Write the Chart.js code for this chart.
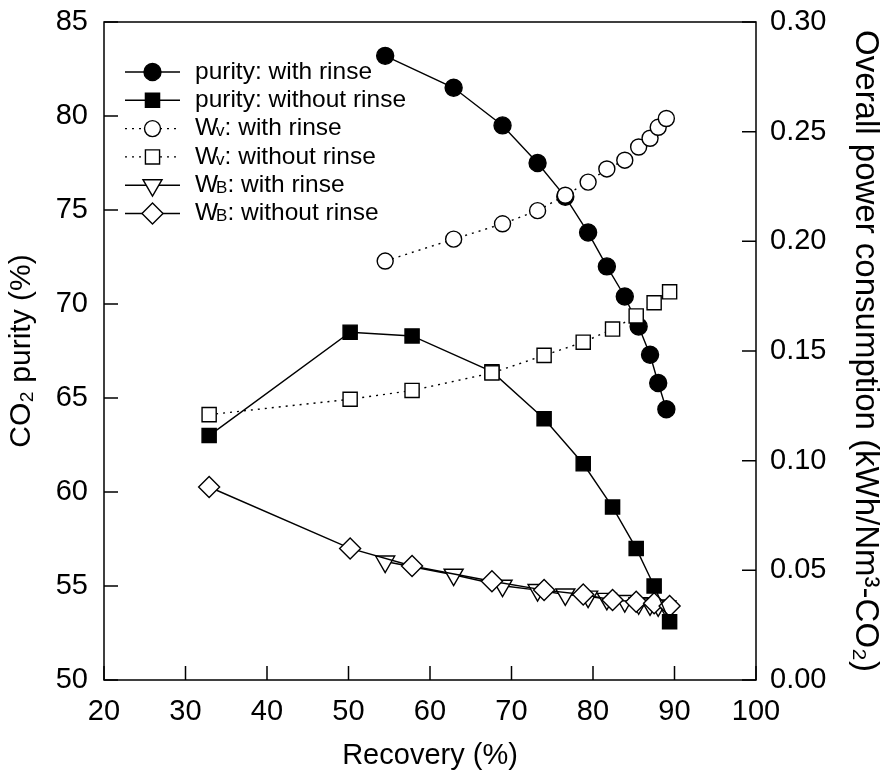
<!DOCTYPE html>
<html>
<head>
<meta charset="utf-8">
<script src="https://cdn.jsdelivr.net/npm/chart.js@4/dist/chart.umd.min.js"></script>
<style>
  body { margin: 0; background: #fff; }
  #grafico { display: block; }
</style>
</head>
<body>
<canvas id="grafico" width="884" height="775"></canvas>
<script>
// recovery (%) for each run
const recComRinse = [54.5, 62.9, 68.9, 73.2, 76.6, 79.4, 81.7, 83.9, 85.6, 87.0, 88.0, 89.0];
const recSemRinse = [32.9, 50.2, 57.8, 67.6, 74.0, 78.8, 82.4, 85.3, 87.5, 89.4];

// CO2 purity (%)
const purezaComRinse = [83.2, 81.5, 79.5, 77.5, 75.7, 73.8, 72.0, 70.4, 68.8, 67.3, 65.8, 64.4];
const purezaSemRinse = [63.0, 68.5, 68.3, 66.4, 63.9, 61.5, 59.2, 57.0, 55.0, 53.1];

// overall power consumption (kWh/Nm3-CO2)
const wvComRinse = [0.191, 0.201, 0.208, 0.214, 0.221, 0.227, 0.233, 0.237, 0.243, 0.247, 0.252, 0.256];
const wvSemRinse = [0.121, 0.128, 0.132, 0.140, 0.148, 0.154, 0.160, 0.166, 0.172, 0.177];
const wbComRinse = [0.054, 0.048, 0.043, 0.041, 0.039, 0.038, 0.037, 0.036, 0.035, 0.0345, 0.034, 0.0335];
const wbSemRinse = [0.088, 0.060, 0.052, 0.045, 0.041, 0.039, 0.0365, 0.0357, 0.035, 0.0337];

const xTicks = [20, 30, 40, 50, 60, 70, 80, 90, 100];
const yTicks = [50, 55, 60, 65, 70, 75, 80, 85];
const y1Ticks = [0, 0.05, 0.10, 0.15, 0.20, 0.25, 0.30];

const legendas = [
  "purity: with rinse",
  "purity: without rinse",
  "Wv: with rinse",
  "Wv: without rinse",
  "WB: with rinse",
  "WB: without rinse"
];

const fonte = "'Liberation Sans', Arial, sans-serif";

function pares(xs, ys) {
  return xs.map((x, i) => ({ x, y: ys[i] }));
}

function serie(label, xs, ys, eixo, estilo, cheio, tracejado, raio, ordem, rot) {
  return {
    label,
    data: pares(xs, ys),
    yAxisID: eixo,
    borderColor: "#000",
    backgroundColor: cheio ? "#000" : "#fff",
    borderWidth: 1.4,
    borderDash: tracejado ? [2, 5] : [],
    pointStyle: estilo,
    pointRadius: raio,
    pointHoverRadius: raio,
    pointBorderWidth: 1.4,
    pointBorderColor: "#000",
    pointBackgroundColor: cheio ? "#000" : "#fff",
    pointRotation: rot || 0,
    fill: false,
    tension: 0,
    order: ordem
  };
}

const datasets = [
  serie(legendas[0], recComRinse, purezaComRinse, "y", "circle", true, false, 8.5, 4),
  serie(legendas[1], recSemRinse, purezaSemRinse, "y", "rect", true, false, 10, 3),
  serie(legendas[2], recComRinse, wvComRinse, "y1", "circle", false, true, 8, 2),
  serie(legendas[3], recSemRinse, wvSemRinse, "y1", "rect", false, true, 10, 1),
  serie(legendas[4], recComRinse, wbComRinse, "y1", "triangle", false, false, 11, 6, 180),
  serie(legendas[5], recSemRinse, wbSemRinse, "y1", "rectRot", false, false, 10.5, 5)
];

// ticks pointing inward + closed frame + legend inside the plot
const molduraPlugin = {
  id: "moldura",
  afterDraw(chart) {
    const ctx = chart.ctx;
    const a = chart.chartArea;
    const tam = 14;
    ctx.save();
    ctx.strokeStyle = "#000";
    ctx.lineWidth = 1.5;
    ctx.strokeRect(a.left, a.top, a.right - a.left, a.bottom - a.top);
    ctx.beginPath();
    xTicks.forEach(v => {
      const px = chart.scales.x.getPixelForValue(v);
      ctx.moveTo(px, a.bottom);
      ctx.lineTo(px, a.bottom - tam);
    });
    yTicks.forEach(v => {
      const py = chart.scales.y.getPixelForValue(v);
      ctx.moveTo(a.left, py);
      ctx.lineTo(a.left + tam, py);
    });
    y1Ticks.forEach(v => {
      const py = chart.scales.y1.getPixelForValue(v);
      ctx.moveTo(a.right, py);
      ctx.lineTo(a.right - tam, py);
    });
    ctx.stroke();

    // legend
    const x0 = a.left + 21;
    const x1 = a.left + 76;
    const xm = (x0 + x1) / 2;
    const xt = a.left + 91;
    let yl = a.top + 50;
    const passo = 28.3;
    chart.data.datasets.forEach((ds, i) => {
      ctx.beginPath();
      ctx.lineWidth = 1.4;
      ctx.setLineDash(ds.borderDash);
      ctx.moveTo(x0, yl);
      ctx.lineTo(x1, yl);
      ctx.stroke();
      ctx.setLineDash([]);
      const opts = {
        pointStyle: ds.pointStyle,
        radius: ds.pointRadius,
        rotation: ds.pointRotation,
        borderWidth: ds.pointBorderWidth
      };
      ctx.fillStyle = ds.pointBackgroundColor;
      ctx.strokeStyle = "#000";
      ctx.lineWidth = ds.pointBorderWidth;
      if (Chart.helpers && Chart.helpers.drawPoint) {
        Chart.helpers.drawPoint(ctx, opts, xm, yl);
      } else {
        ctx.beginPath();
        ctx.arc(xm, yl, ds.pointRadius, 0, Math.PI * 2);
        ctx.fill();
        ctx.stroke();
      }
      ctx.fillStyle = "#000";
      ctx.font = "24.5px " + fonte;
      ctx.textBaseline = "middle";
      ctx.textAlign = "left";
      const rotulo = legendas[i];
      if (rotulo.startsWith("Wv") || rotulo.startsWith("WB")) {
        ctx.fillText("W", xt, yl);
        let w = ctx.measureText("W").width;
        ctx.font = "17px " + fonte;
        const sub = rotulo.slice(1, 2);
        ctx.fillText(sub, xt + w - 2, yl + 3);
        w += ctx.measureText(sub).width - 2;
        ctx.font = "24.5px " + fonte;
        ctx.fillText(rotulo.slice(2), xt + w, yl);
      } else {
        ctx.fillText(rotulo, xt, yl);
      }
      yl += passo;
    });
    ctx.restore();
  }
};

function semPaddingVertical(s, largura) {
  s.width = largura;
  s.paddingTop = 0;
  s.paddingBottom = 0;
}

new Chart(document.getElementById("grafico").getContext("2d"), {
  type: "line",
  data: { datasets },
  options: {
    responsive: false,
    animation: false,
    layout: { padding: { top: 22 } },
    plugins: {
      legend: { display: false },
      tooltip: { enabled: false }
    },
    scales: {
      x: {
        type: "linear",
        min: 20,
        max: 100,
        afterBuildTicks: s => { s.ticks = xTicks.map(v => ({ value: v })); },
        afterFit: s => { s.height = 95; s.paddingLeft = 0; s.paddingRight = 0; },
        grid: { display: false, drawTicks: false },
        border: { display: false },
        ticks: { color: "#000", padding: 15, font: { family: fonte, size: 29 } },
        title: { display: true, text: "Recovery (%)", color: "#000", padding: 5, font: { family: fonte, size: 29, lineHeight: 1 } }
      },
      y: {
        type: "linear",
        position: "left",
        min: 50,
        max: 85,
        afterBuildTicks: s => { s.ticks = yTicks.map(v => ({ value: v })); },
        afterFit: s => semPaddingVertical(s, 104),
        grid: { display: false, drawTicks: false },
        border: { display: false },
        ticks: { color: "#000", padding: 16, font: { family: fonte, size: 29 } },
        title: { display: true, text: "CO₂ purity (%)", color: "#000", padding: 7, font: { family: fonte, size: 30, lineHeight: 1 } }
      },
      y1: {
        type: "linear",
        position: "right",
        min: 0,
        max: 0.30,
        afterBuildTicks: s => { s.ticks = y1Ticks.map(v => ({ value: v })); },
        afterFit: s => semPaddingVertical(s, 128),
        grid: { display: false, drawTicks: false },
        border: { display: false },
        ticks: { color: "#000", padding: 14, font: { family: fonte, size: 29 }, callback: v => v.toFixed(2) },
        title: { display: true, text: "Overall power consumption (kWh/Nm³-CO₂)", color: "#000", padding: 2, font: { family: fonte, size: 33, lineHeight: 1 } }
      }
    }
  },
  plugins: [molduraPlugin]
});
</script>
</body>
</html>
